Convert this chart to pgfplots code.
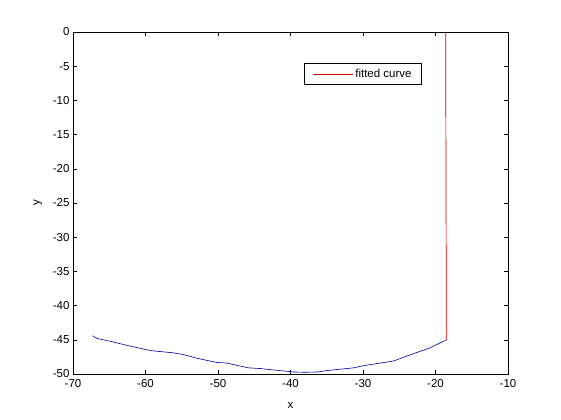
\documentclass[border=0pt]{standalone}
\usepackage{pgfplots}
\pgfplotsset{compat=1.18}
\usepackage{fontspec}
\setmainfont{Liberation Sans}
\definecolor{mblue}{rgb}{0,0,0.6}
\definecolor{mred}{rgb}{0.8,0,0}
\newcommand{\mfont}{\fontsize{11.5bp}{13bp}\selectfont}
\begin{document}
\begin{tikzpicture}
\begin{axis}[
    name=ax,
    scale only axis,
    width=435bp, height=342bp,
    xmin=-70, xmax=-10, ymin=-50, ymax=0,
    xtick={-70,-60,...,-10},
    ytick={-50,-45,...,0},
    tick align=inside,
    major tick length=4bp,
    axis line style={line width=0.6bp},
    every tick/.style={black, line width=0.6bp},
    tick label style={font=\mfont},
    xticklabel style={yshift=-2bp},
    /pgf/number format/assume math mode=true,
    xlabel={x}, ylabel={y},
    label style={font=\mfont},
    xlabel style={yshift=-8bp},
    ylabel style={yshift=4bp},
    legend style={at={(0.667,0.877)}, anchor=center, draw=black,
        line width=0.6bp, font=\mfont,
        inner xsep=8bp, inner ysep=3.5bp},
    legend cell align=left,
    legend image code/.code={\draw[#1, line width=0.6bp] (0bp,0bp) -- (40bp,0bp);},
]
\addplot[mblue, line width=0.6bp, forget plot] coordinates {
    (-67.3,-44.4) (-66.7,-44.8) (-64.9,-45.2) (-62.6,-45.8) (-60.1,-46.4)
    (-59.1,-46.6) (-56.2,-46.9) (-54.6,-47.2) (-52.9,-47.7) (-50.2,-48.3)
    (-48.8,-48.4) (-45.8,-49.1) (-44.2,-49.2) (-42.4,-49.4) (-39.6,-49.7)
    (-38.0,-49.75) (-36.2,-49.7) (-35.0,-49.5) (-31.3,-49.1) (-30.0,-48.8)
    (-25.8,-48.1) (-23.5,-47.2) (-20.8,-46.2) (-18.5,-45.0)
};
\addplot[mred, line width=0.7bp] coordinates {
    (-18.5,-45.0) (-18.6,0)
};
\addlegendentry{fitted curve}
\end{axis}
\path[use as bounding box] ([shift={(-73bp,-46bp)}]ax.south west)
    rectangle ([shift={(488bp,374bp)}]ax.south west);
\end{tikzpicture}
\end{document}
